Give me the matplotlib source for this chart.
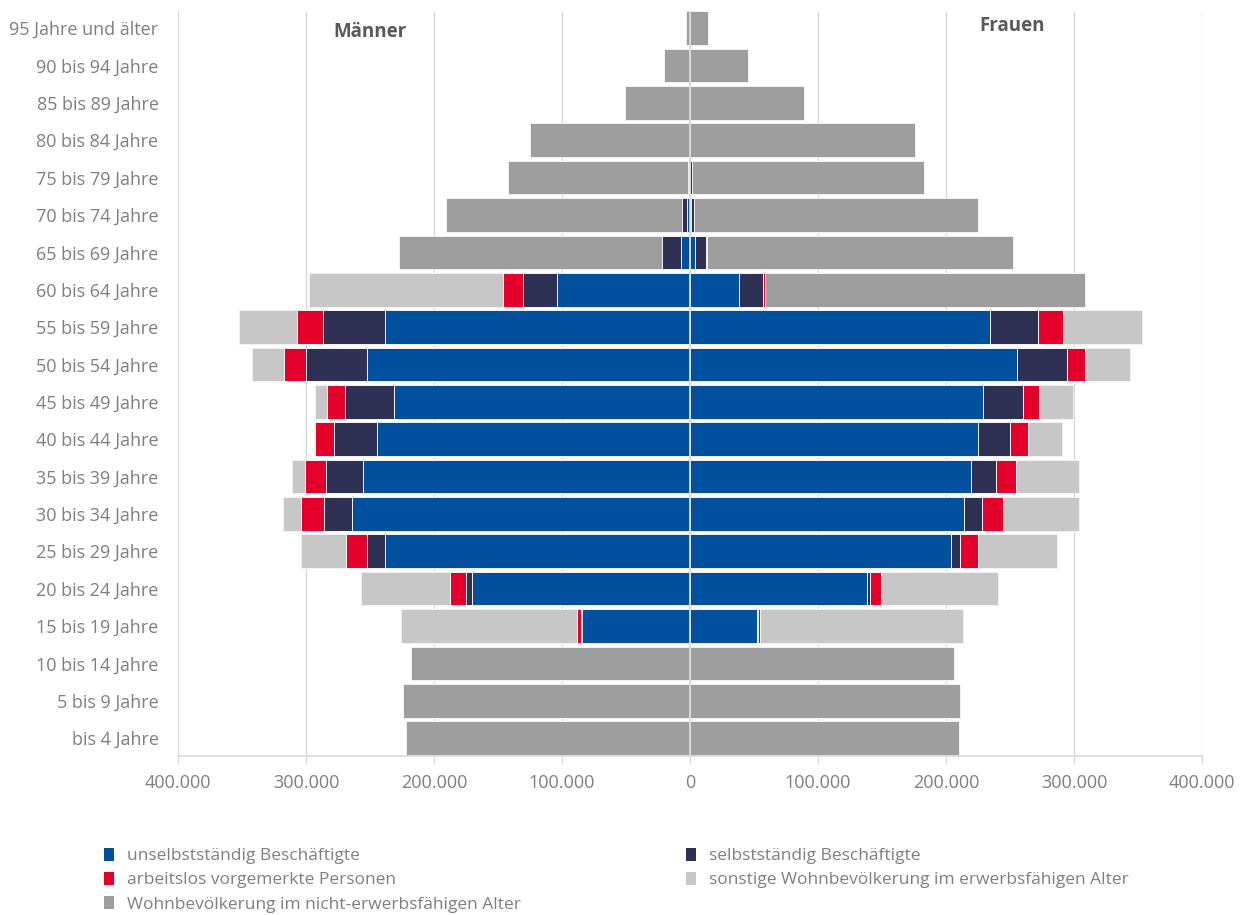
import matplotlib
matplotlib.use("Agg")
import matplotlib.pyplot as plt
from matplotlib.patches import Patch
from matplotlib.ticker import FuncFormatter
import numpy as np

plt.rcParams['font.family'] = ['Open Sans', 'DejaVu Sans']

ages = ["95 Jahre und älter", "90 bis 94 Jahre", "85 bis 89 Jahre", "80 bis 84 Jahre",
        "75 bis 79 Jahre", "70 bis 74 Jahre", "65 bis 69 Jahre", "60 bis 64 Jahre",
        "55 bis 59 Jahre", "50 bis 54 Jahre", "45 bis 49 Jahre", "40 bis 44 Jahre",
        "35 bis 39 Jahre", "30 bis 34 Jahre", "25 bis 29 Jahre", "20 bis 24 Jahre",
        "15 bis 19 Jahre", "10 bis 14 Jahre", "5 bis 9 Jahre", "bis 4 Jahre"]

series_names = ["unselbstständig Beschäftigte", "selbstständig Beschäftigte",
                "arbeitslos vorgemerkte Personen",
                "sonstige Wohnbevölkerung im erwerbsfähigen Alter",
                "Wohnbevölkerung im nicht-erwerbsfähigen Alter"]
colors = ["#00509E", "#2E3154", "#E4002B", "#C6C7C6", "#9D9E9D"]

# Männer (top row first)
m_unselbst = [0, 0, 0, 0, 500, 2600, 7300, 104100, 238000, 252100, 231000, 244800,
              255700, 264300, 238500, 170100, 84600, 0, 0, 0]
m_selbst = [0, 0, 0, 0, 1000, 3400, 14600, 26600, 48900, 48100, 38800, 33600,
            28900, 21900, 13600, 5200, 500, 0, 0, 0]
m_arbeitslos = [0, 0, 0, 0, 0, 300, 200, 15400, 20300, 17000, 13800, 14400,
                16200, 17500, 16600, 12300, 2800, 0, 0, 0]
m_sonstige = [0, 0, 0, 0, 0, 0, 0, 151800, 44800, 25000, 9400, 1300,
              9900, 14100, 35400, 69300, 137800, 0, 0, 0]
m_nicht = [3400, 20100, 50800, 125300, 140700, 184300, 205000, 0, 0, 0, 0, 0,
           0, 0, 0, 0, 0, 218000, 224000, 221500]

# Frauen (top row first)
f_unselbst = [0, 0, 0, 0, 0, 1000, 4200, 38500, 234600, 255700, 229100, 224800,
              219300, 214300, 203900, 138500, 52600, 0, 0, 0]
f_selbst = [0, 0, 0, 0, 1200, 2100, 8600, 18800, 37300, 38800, 31000, 25500,
            19800, 14100, 7300, 1900, 300, 0, 0, 0]
f_arbeitslos = [0, 0, 0, 0, 0, 0, 200, 1600, 19500, 14300, 12500, 13800,
                15400, 15900, 13800, 8800, 1800, 0, 0, 0]
f_sonstige = [0, 0, 0, 0, 0, 0, 0, 0, 61700, 35200, 26300, 26300,
              49500, 59400, 62000, 91200, 158600, 0, 0, 0]
f_nicht = [14300, 45600, 88800, 175500, 181600, 221900, 239300, 249500, 0, 0, 0, 0,
           0, 0, 0, 0, 0, 206400, 211300, 210400]

x_ticks = [-400000, -300000, -200000, -100000, 0, 100000, 200000, 300000, 400000]

men = [m_unselbst, m_selbst, m_arbeitslos, m_sonstige, m_nicht]
women = [f_unselbst, f_selbst, f_arbeitslos, f_sonstige, f_nicht]

fig = plt.figure(figsize=(12.45, 9.15), dpi=100)
ax = fig.add_axes([178/1245, 1 - 756/915, (1202-178)/1245, (756-11)/915])

n = len(ages)
y = np.arange(n)[::-1]  # top row at highest y
grid_c = "#d9d9d9"
txt_c = "#7f7f7f"

for xv in x_ticks:
    ax.axvline(xv, color=grid_c, lw=1.0, zorder=0)

cum_m = np.zeros(n)
cum_f = np.zeros(n)
for i in range(5):
    mv = np.array(men[i], dtype=float)
    fv = np.array(women[i], dtype=float)
    ax.barh(y, -mv, left=-cum_m, height=0.9, color=colors[i],
            edgecolor="#f2f2f2", linewidth=0.7, zorder=2)
    ax.barh(y, fv, left=cum_f, height=0.9, color=colors[i],
            edgecolor="#f2f2f2", linewidth=0.7, zorder=2)
    cum_m += mv
    cum_f += fv

ax.axvline(0, color=grid_c, lw=1.3, zorder=3)

ax.set_xlim(-400000, 400000)
ax.set_ylim(-0.48, n - 1 + 0.46)
ax.set_yticks(y)
ax.set_yticklabels(ages)
ax.set_xticks(x_ticks)
ax.xaxis.set_major_formatter(FuncFormatter(lambda v, p: f"{abs(int(v)):,}".replace(",", ".")))

for s in ["top", "right", "left"]:
    ax.spines[s].set_visible(False)
ax.spines["bottom"].set_color(grid_c)
ax.spines["bottom"].set_linewidth(1.2)
ax.tick_params(axis="y", length=0, pad=14, labelsize=13, labelcolor=txt_c)
ax.tick_params(axis="x", length=5, width=1, color=grid_c, pad=8, labelsize=13, labelcolor=txt_c)

ax.text(-250000, 19 - 0.1, "Männer", ha="center", va="center", fontsize=13.5,
        fontweight="bold", color="#595959")
ax.text(252000, 19 + 0.05, "Frauen", ha="center", va="center", fontsize=13.5,
        fontweight="bold", color="#595959")

handles = [Patch(facecolor=c, edgecolor="none") for c in colors]
left_idx = [0, 2, 4]
right_idx = [1, 3]
leg_kw = dict(frameon=False, loc="upper left", borderpad=0, borderaxespad=0,
              handlelength=0.6, handleheight=0.75, handletextpad=0.75,
              labelspacing=0.44, fontsize=12.5, labelcolor=txt_c)
fig.legend([handles[i] for i in left_idx], [series_names[i] for i in left_idx],
           bbox_to_anchor=(104/1245, 1 - 848/915), **leg_kw)
fig.legend([handles[i] for i in right_idx], [series_names[i] for i in right_idx],
           bbox_to_anchor=(686/1245, 1 - 848/915), **leg_kw)

fig.savefig("out.png", dpi=100)
